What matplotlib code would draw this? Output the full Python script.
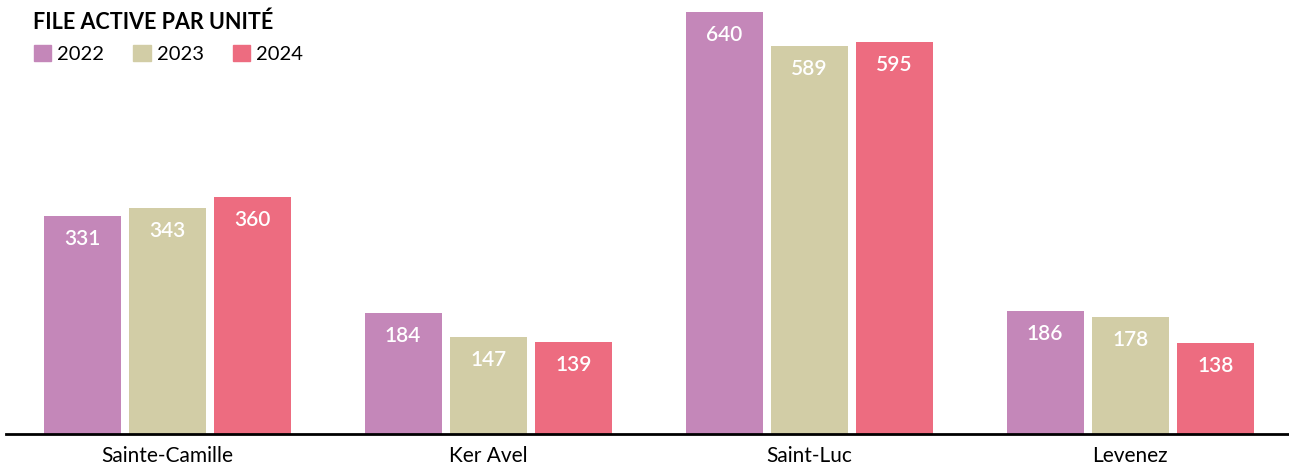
import numpy as np
import matplotlib.pyplot as plt
from matplotlib.patches import Patch

plt.rcParams['font.family'] = ['Lato', 'DejaVu Sans']

units = ["Sainte-Camille", "Ker Avel", "Saint-Luc", "Levenez"]
years = ["2022", "2023", "2024"]
v2022 = [331, 184, 640, 186]
v2023 = [343, 147, 589, 178]
v2024 = [360, 139, 595, 138]
colors = ["#C487B9", "#D2CDA6", "#ED6C80"]

W, H = 1289, 467
fig = plt.figure(figsize=(W / 100, H / 100), dpi=100)
ax = fig.add_axes([6 / W, 33 / H, 1 - 6 / W, 1 - 33 / H])

x = np.arange(len(units))
width = 0.24
offset = 0.265
for i, (vals, col) in enumerate(zip([v2022, v2023, v2024], colors)):
    xs = x + (i - 1) * offset
    ax.bar(xs, vals, width=width, color=col, zorder=2)
    for xi, v in zip(xs, vals):
        ax.annotate(str(v), (xi, v), xytext=(0, -16.5), textcoords='offset points',
                    ha='center', va='center', color='white', fontsize=15,
                    fontweight='semibold')

ax.set_xlim(-0.502, 3.495)
ax.set_ylim(0, 640 * 434 / 422)
for s in ['top', 'right', 'left']:
    ax.spines[s].set_visible(False)
ax.spines['bottom'].set_linewidth(2)
ax.spines['bottom'].set_color('black')
ax.set_yticks([])
ax.set_xticks(x)
ax.set_xticklabels(units, fontsize=15)
ax.tick_params(axis='x', length=0, pad=9)

fig.text(33 / W, 1 - 22 / H, "FILE ACTIVE PAR UNITÉ", fontsize=15.5,
         fontweight='bold', va='center', ha='left')

handles = [Patch(color=c, label=y) for c, y in zip(colors, years)]
fig.legend(handles=handles, loc='center left', bbox_to_anchor=(24 / W, 1 - 54 / H),
           ncol=3, frameon=False, fontsize=14.5, handlelength=0.85, handleheight=0.85,
           handletextpad=0.3, columnspacing=1.45, borderpad=0)

fig.savefig("out.png", dpi=100)
